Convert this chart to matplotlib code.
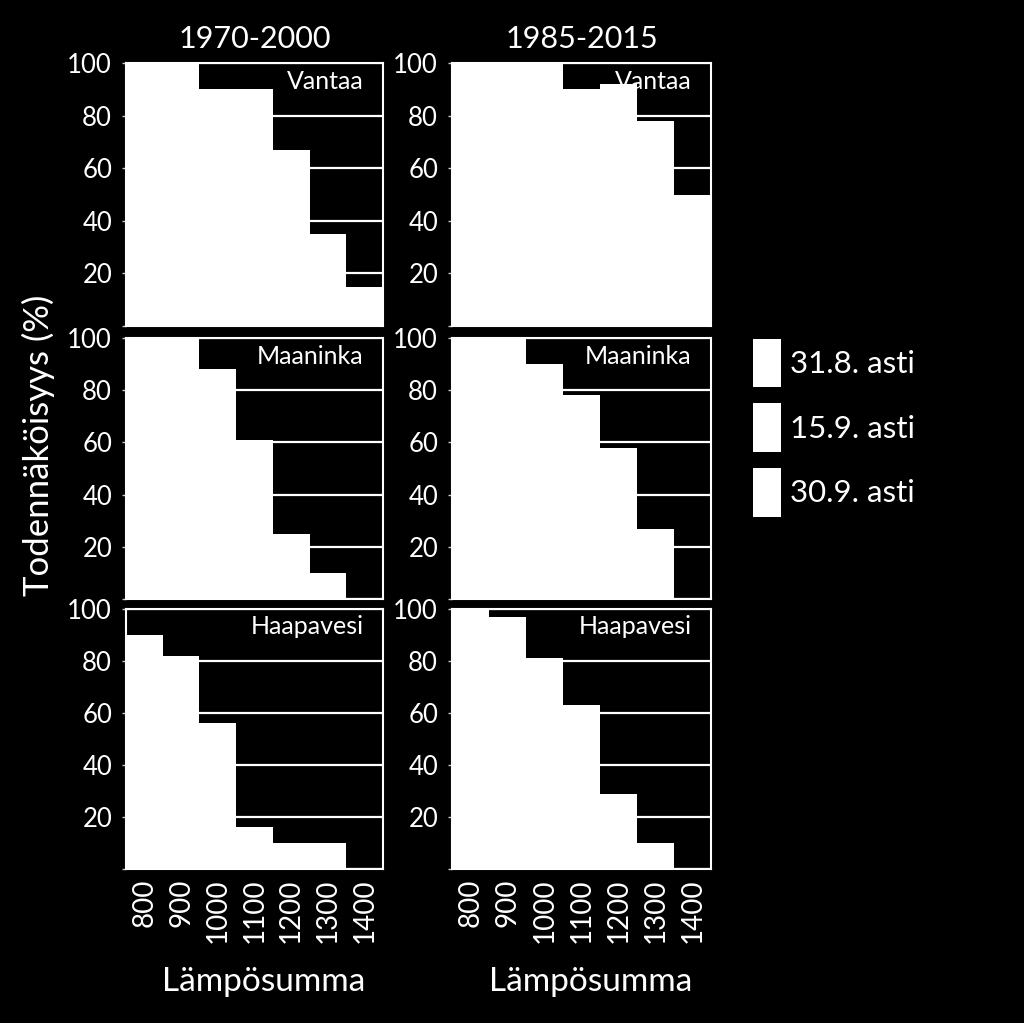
import matplotlib.pyplot as plt
from matplotlib.patches import Patch

plt.rcParams['font.family'] = ['Lato', 'DejaVu Sans']

# Data: probability (%) of reaching a heat sum (Lämpösumma)
heat_sums = ['800', '900', '1000', '1100', '1200', '1300', '1400']
periods = ['1970-2000', '1985-2015']
stations = ['Vantaa', 'Maaninka', 'Haapavesi']
series_labels = ['31.8. asti', '15.9. asti', '30.9. asti']

vantaa_1970 = [100, 100, 90, 90, 67, 35, 15]
vantaa_1985 = [100, 100, 100, 90, 92, 78, 50]
maaninka_1970 = [100, 100, 88, 61, 25, 10, 0]
maaninka_1985 = [100, 100, 90, 78, 58, 27, 0]
haapavesi_1970 = [90, 82, 56, 16, 10, 10, 0]
haapavesi_1985 = [100, 97, 81, 63, 29, 10, 0]

panel_values = [
    [vantaa_1970, vantaa_1985],
    [maaninka_1970, maaninka_1985],
    [haapavesi_1970, haapavesi_1985],
]

y_ticks = [0, 20, 40, 60, 80, 100]
y_tick_labels = ['', '20', '40', '60', '80', '100']

fig = plt.figure(figsize=(10.24, 10.23), dpi=100, facecolor='black')

# axes positions in figure fraction
col_left = [0.123, 0.4414]
col_width = [0.251, 0.253]
row_bottom = [0.6813, 0.4145, 0.1505]
row_height = [0.2571, 0.2551, 0.2542]

x = list(range(len(heat_sums)))
for r, station in enumerate(stations):
    for c, period in enumerate(periods):
        ax = fig.add_axes([col_left[c], row_bottom[r], col_width[c], row_height[r]])
        ax.set_facecolor('black')
        ax.set_axisbelow(True)
        ax.bar(x, panel_values[r][c], width=1.0, color='white',
               edgecolor='none', zorder=2)
        ax.set_xlim(-0.5, len(heat_sums) - 0.5)
        ax.set_ylim(0, 100)
        ax.set_yticks(y_ticks)
        ax.set_yticklabels(y_tick_labels)
        ax.yaxis.grid(True, color='white', linewidth=1.6)
        ax.tick_params(axis='y', colors='#cccccc', labelcolor='white',
                       labelsize=18.5, length=3, width=1, pad=7)
        ax.set_xticks(x)
        if r == len(stations) - 1:
            ax.set_xticklabels(heat_sums, rotation=90)
            ax.tick_params(axis='x', labelcolor='white', labelsize=20,
                           length=0, pad=7)
        else:
            ax.set_xticklabels([])
            ax.tick_params(axis='x', length=0)
        for sp in ax.spines.values():
            sp.set_color('white')
            sp.set_linewidth(1.5)
            sp.set_zorder(3)
        ax.text(0.925, 0.975, station, transform=ax.transAxes, ha='right',
                va='top', color='white', fontsize=18, zorder=1.5)
        if r == 0:
            ax.set_title(period, color='white', fontsize=22, pad=11)

fig.text(0.038, 0.565, 'Todennäköisyys (%)', rotation=90, color='white',
         fontsize=25, ha='center', va='center')
for xc in [0.257, 0.577]:
    fig.text(xc, 0.040, 'Lämpösumma', color='white', fontsize=24,
             ha='center', va='center')

handles = [Patch(facecolor='white', edgecolor='none') for _ in series_labels]
fig.legend(handles, series_labels, loc='center left',
           bbox_to_anchor=(0.735, 0.582), frameon=False, fontsize=22.5,
           labelcolor='white', handlelength=0.9, handleheight=2.0,
           handletextpad=0.3, labelspacing=0.53, borderpad=0,
           borderaxespad=0)

fig.savefig('out.png', dpi=100, facecolor='black')
